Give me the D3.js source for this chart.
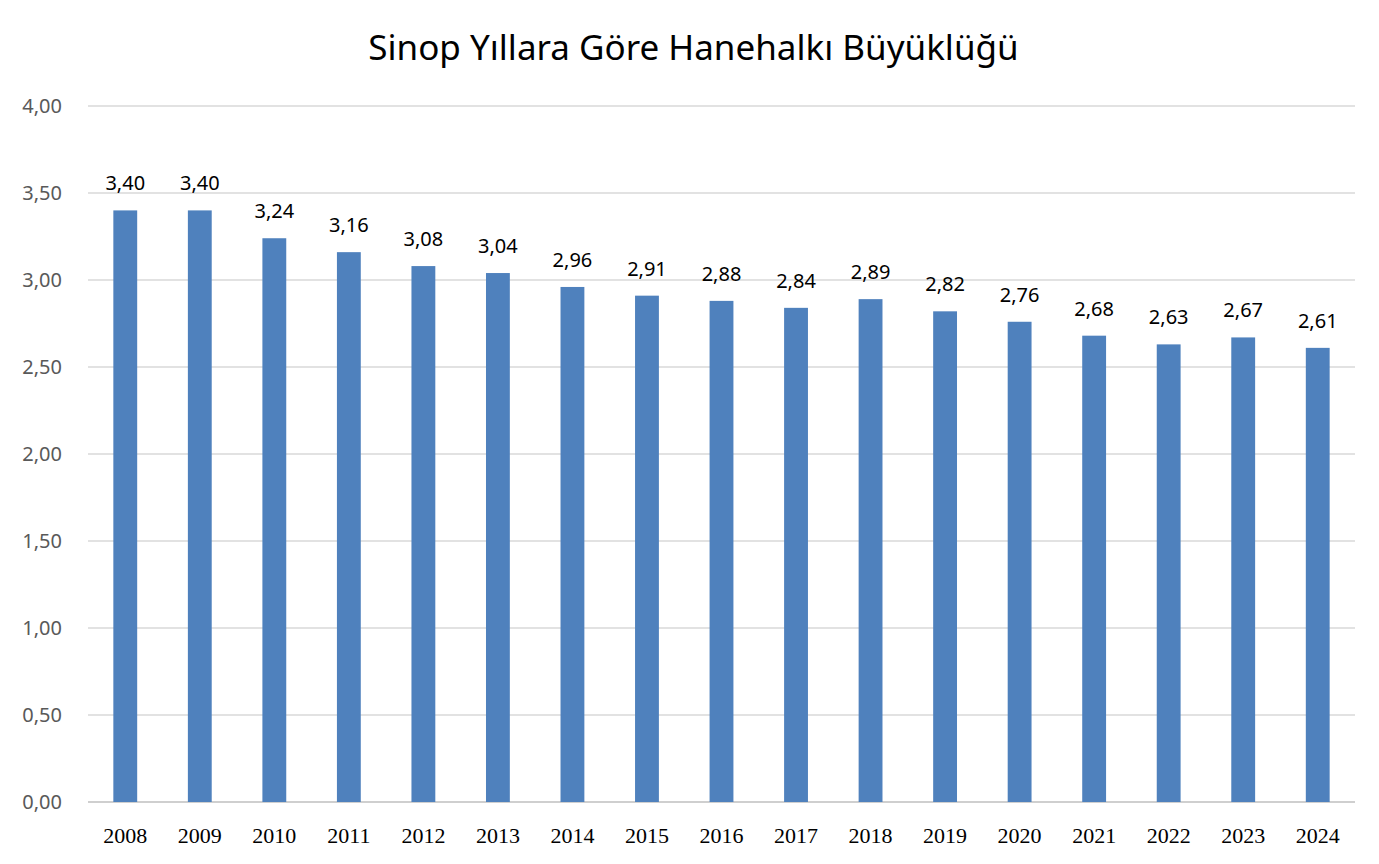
<!DOCTYPE html>
<html>
<head>
<meta charset="utf-8">
<script src="https://cdn.jsdelivr.net/npm/d3@7"></script>
<style>
  body { margin: 0; background: #fff; }
</style>
</head>
<body>
<div id="chart"></div>
<script>
// Sinop hanehalkı büyüklüğü
const years = ['2008', '2009', '2010', '2011', '2012', '2013', '2014', '2015', '2016',
  '2017', '2018', '2019', '2020', '2021', '2022', '2023', '2024'];
const values = [3.40, 3.40, 3.24, 3.16, 3.08, 3.04, 2.96, 2.91, 2.88,
  2.84, 2.89, 2.82, 2.76, 2.68, 2.63, 2.67, 2.61];
const yTicks = [0, 0.5, 1, 1.5, 2, 2.5, 3, 3.5, 4];

const width = 1379,
  height = 864;
const margin = { top: 106, right: 24, bottom: 62, left: 88 };

const fmt = v => v.toFixed(2).replace('.', ',');

const x = d3.scaleBand()
  .domain(years)
  .range([margin.left, width - margin.right])
  .paddingInner(0.68)
  .paddingOuter(0.34);

const y = d3.scaleLinear()
  .domain([0, 4])
  .range([height - margin.bottom, margin.top]);

const svg = d3.select('#chart').append('svg')
  .attr('width', width)
  .attr('height', height);

svg.append('text')
  .attr('x', width / 2 + 4)
  .attr('y', 60)
  .attr('text-anchor', 'middle')
  .style('font', '35px "Noto Sans", sans-serif')
  .attr('fill', '#000')
  .text('Sinop Yıllara Göre Hanehalkı Büyüklüğü');

// grid lines
svg.append('g')
  .selectAll('line')
  .data(yTicks)
  .enter().append('line')
  .attr('x1', margin.left)
  .attr('x2', width - margin.right)
  .attr('y1', d => y(d))
  .attr('y2', d => y(d))
  .attr('stroke', d => d === 0 ? '#bfbfbf' : '#d9d9d9')
  .attr('stroke-width', 1.5);

// y axis labels
svg.append('g')
  .selectAll('text')
  .data(yTicks)
  .enter().append('text')
  .attr('x', 62)
  .attr('y', d => y(d))
  .attr('dy', '0.35em')
  .attr('text-anchor', 'end')
  .attr('fill', '#595959')
  .style('font', '20px "Noto Sans", sans-serif')
  .text(fmt);

// bars
svg.append('g')
  .selectAll('rect')
  .data(values)
  .enter().append('rect')
  .attr('x', (d, i) => x(years[i]))
  .attr('width', x.bandwidth())
  .attr('y', d => y(d))
  .attr('height', d => y(0) - y(d))
  .attr('fill', '#4f81bd');

// value labels
svg.append('g')
  .selectAll('text')
  .data(values)
  .enter().append('text')
  .attr('x', (d, i) => x(years[i]) + x.bandwidth() / 2)
  .attr('y', d => y(d) - 20)
  .attr('text-anchor', 'middle')
  .attr('fill', '#000')
  .style('font', '20px "Noto Sans", sans-serif')
  .text(fmt);

// x axis labels
svg.append('g')
  .selectAll('text')
  .data(years)
  .enter().append('text')
  .attr('x', d => x(d) + x.bandwidth() / 2)
  .attr('y', 843)
  .attr('text-anchor', 'middle')
  .attr('fill', '#000')
  .style('font', '22px "Liberation Serif", serif')
  .text(d => d);
</script>
</body>
</html>
